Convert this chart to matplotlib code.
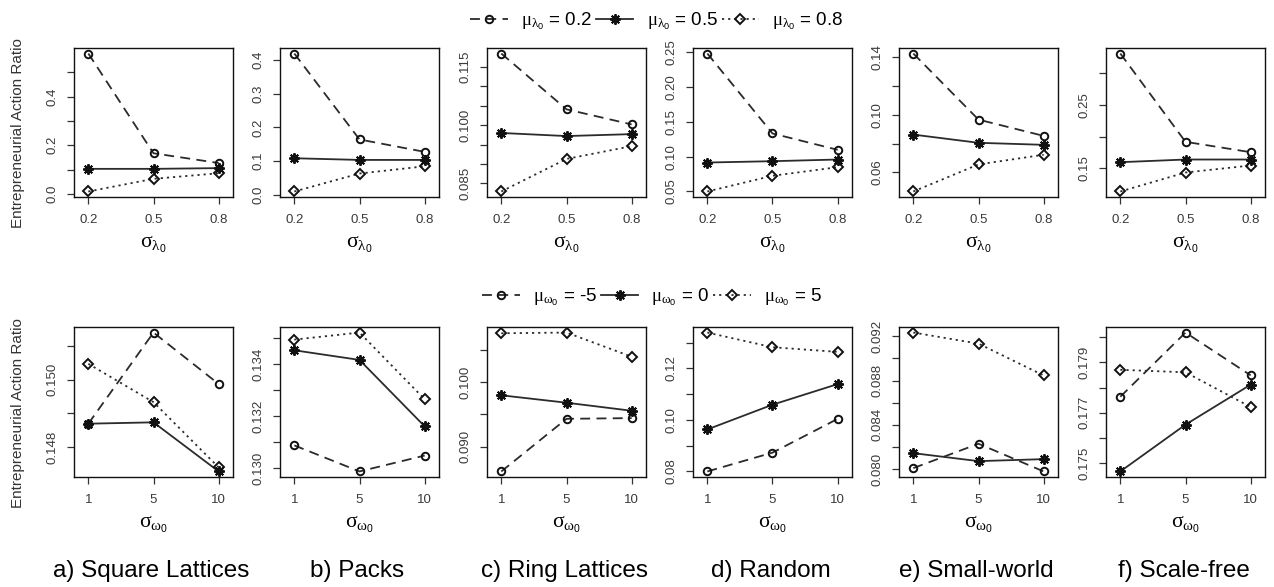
import matplotlib
matplotlib.use("Agg")
import matplotlib.pyplot as plt
from matplotlib.lines import Line2D

plt.rcParams['font.family'] = ['Liberation Sans', 'DejaVu Sans']
plt.rcParams['mathtext.fontset'] = 'custom'
plt.rcParams['mathtext.rm'] = 'Liberation Serif'
plt.rcParams['mathtext.it'] = 'Liberation Serif:italic'
plt.rcParams['mathtext.sf'] = 'Liberation Sans'

# ---------------- data ----------------
networks = ['a) Square Lattices', 'b) Packs', 'c) Ring Lattices',
            'd) Random', 'e) Small-world', 'f) Scale-free']
sigma_lambda = ['0.2', '0.5', '0.8']
sigma_omega = ['1', '5', '10']

# top row: mu_lambda0 = 0.2 / 0.5 / 0.8
top_mu02 = [[0.577, 0.167, 0.127], [0.420, 0.164, 0.127], [0.1185, 0.1041, 0.1002],
            [0.2477, 0.1331, 0.1097], [0.1426, 0.0967, 0.0854], [0.3306, 0.1919, 0.1756]]
top_mu05 = [[0.103, 0.103, 0.106], [0.108, 0.103, 0.103], [0.0980, 0.0972, 0.0977],
            [0.0915, 0.0934, 0.0958], [0.0863, 0.0806, 0.0792], [0.1599, 0.1641, 0.1641]]
top_mu08 = [[0.010, 0.062, 0.085], [0.009, 0.0625, 0.084], [0.0829, 0.0913, 0.0946],
            [0.050, 0.0725, 0.0848], [0.0468, 0.0656, 0.0723], [0.1139, 0.1437, 0.1547]]

# bottom row: mu_omega0 = -5 / 0 / 5
bot_mum5 = [[0.14869, 0.1514, 0.14987], [0.13088, 0.12988, 0.13049], [0.08615, 0.09432, 0.09443],
            [0.0800, 0.0873, 0.1004], [0.0801, 0.0823, 0.0798], [0.17764, 0.18019, 0.17849]]
bot_mu0 = [[0.14869, 0.14873, 0.14727], [0.13453, 0.13416, 0.13161], [0.09797, 0.09682, 0.09557],
           [0.0963, 0.1059, 0.1139], [0.08145, 0.08073, 0.08091], [0.17467, 0.17653, 0.17812]]
bot_mu5 = [[0.15047, 0.14933, 0.14739], [0.13494, 0.13521, 0.13265], [0.1076, 0.10771, 0.10396],
           [0.1339, 0.1282, 0.1264], [0.09233, 0.09133, 0.08846], [0.17871, 0.17861, 0.17723]]

# y ticks (positions) and their labels ('' = tick without label)
top_yticks = [[0.0, 0.1, 0.2, 0.3, 0.4, 0.5],
              [0.0, 0.1, 0.2, 0.3, 0.4],
              [0.085, 0.090, 0.095, 0.100, 0.105, 0.110, 0.115],
              [0.05, 0.10, 0.15, 0.20, 0.25],
              [0.06, 0.08, 0.10, 0.12, 0.14],
              [0.15, 0.20, 0.25, 0.30]]
top_ylabels = [['0.0', '', '0.2', '', '0.4', ''],
               ['0.0', '0.1', '0.2', '0.3', '0.4'],
               ['0.085', '', '', '0.100', '', '', '0.115'],
               ['0.05', '0.10', '0.15', '0.20', '0.25'],
               ['0.06', '', '0.10', '', '0.14'],
               ['0.15', '', '0.25', '']]
bot_yticks = [[0.148, 0.149, 0.150, 0.151],
              [0.130, 0.131, 0.132, 0.133, 0.134, 0.135],
              [0.090, 0.095, 0.100, 0.105],
              [0.08, 0.09, 0.10, 0.11, 0.12, 0.13],
              [0.080, 0.082, 0.084, 0.086, 0.088, 0.090, 0.092],
              [0.175, 0.176, 0.177, 0.178, 0.179, 0.180]]
bot_ylabels = [['0.148', '', '0.150', ''],
               ['0.130', '', '0.132', '', '0.134', ''],
               ['0.090', '', '0.100', ''],
               ['0.08', '', '0.10', '', '0.12', ''],
               ['0.080', '', '0.084', '', '0.088', '', '0.092'],
               ['0.175', '', '0.177', '', '0.179', '']]

top_legend = [r'$\mathrm{μ}_{\mathrm{λ}_\mathsf{0}}$ = 0.2',
              r'$\mathrm{μ}_{\mathrm{λ}_\mathsf{0}}$ = 0.5',
              r'$\mathrm{μ}_{\mathrm{λ}_\mathsf{0}}$ = 0.8']
bot_legend = [r'$\mathrm{μ}_{\mathrm{ω}_\mathsf{0}}$ = -5',
              r'$\mathrm{μ}_{\mathrm{ω}_\mathsf{0}}$ = 0',
              r'$\mathrm{μ}_{\mathrm{ω}_\mathsf{0}}$ = 5']
top_xlabel = r'$\mathrm{σ}_{\mathrm{λ}_\mathsf{0}}$'
bot_xlabel = r'$\mathrm{σ}_{\mathrm{ω}_\mathsf{0}}$'
ylabel_text = 'Entrepreneurial Action Ratio'

# ---------------- styles ----------------
W, H = 1274, 587
LC = '#2b2b2b'
styles = [
    dict(linestyle=(0, (5.5, 3.5)), marker='o', markersize=5.4, markerfacecolor='none'),
    dict(linestyle='-', marker=(8, 2, 0), markersize=7.5),
    dict(linestyle=(0, (1.2, 2.2)), marker='D', markersize=4.8, markerfacecolor='none'),
]
common = dict(color=LC, linewidth=1.3, markeredgecolor='#111111', markeredgewidth=1.4)

fig = plt.figure(figsize=(W / 100, H / 100), dpi=100)

lefts = [74, 280, 487, 693, 899, 1106]
pw = 159
rows = [dict(top=48, h=149, series=[top_mu02, top_mu05, top_mu08], yt=top_yticks,
             yl=top_ylabels, xt=sigma_lambda, xlabel=top_xlabel),
        dict(top=327, h=150, series=[bot_mum5, bot_mu0, bot_mu5], yt=bot_yticks,
             yl=bot_ylabels, xt=sigma_omega, xlabel=bot_xlabel)]

for r, row in enumerate(rows):
    for i, left in enumerate(lefts):
        ax = fig.add_axes([left / W, 1 - (row['top'] + row['h']) / H, pw / W, row['h'] / H])
        xs = [1, 2, 3]
        allv = []
        for s, st in zip(row['series'], styles):
            ax.plot(xs, s[i], **common, **st)
            allv += s[i]
        lo, hi = min(allv), max(allv)
        pad = 0.04 * (hi - lo)
        ax.set_ylim(lo - pad, hi + pad)
        ax.set_xlim(0.78, 3.22)
        ax.set_xticks(xs)
        ax.set_xticklabels(row['xt'])
        ax.set_yticks(row['yt'][i])
        ax.set_yticklabels(row['yl'][i], rotation=90, va='center')
        ax.tick_params(axis='both', direction='out', length=5, width=0.9,
                       labelsize=9.5, labelcolor='#3a3a3a', color='#333333')
        ax.tick_params(axis='x', pad=7)
        ax.tick_params(axis='y', pad=6)
        for sp in ax.spines.values():
            sp.set_linewidth(1.0)
            sp.set_color('#111111')
        ax.annotate(row['xlabel'], xy=(0.5, 0), xycoords='axes fraction',
                    xytext=(0, -34), textcoords='offset points',
                    ha='center', va='center', fontsize=15.5)
        if r == 1:
            fig.text((left + pw / 2 - 2) / W, 1 - 571 / H, networks[i],
                     ha='center', va='center', fontsize=17.5)
    fig.text(18 / W, 1 - (row['top'] + row['h'] / 2 + 11) / H, ylabel_text,
             rotation=90, ha='center', va='center', fontsize=11, color='#333333')


def make_handles():
    return [Line2D([], [], **common, **st) for st in styles]


leg1 = fig.legend(make_handles(), top_legend, loc='center', ncol=3,
                  bbox_to_anchor=(657 / W, 1 - 21 / H), frameon=False, fontsize=13.5,
                  handlelength=2.0, handletextpad=0.7, columnspacing=0.2,
                  numpoints=1, borderaxespad=0)
leg2 = fig.legend(make_handles(), bot_legend, loc='center', ncol=3,
                  bbox_to_anchor=(652 / W, 1 - 297 / H), frameon=False, fontsize=13.5,
                  handlelength=2.0, handletextpad=0.7, columnspacing=0.2,
                  numpoints=1, borderaxespad=0)

fig.savefig('out.png', dpi=100)
